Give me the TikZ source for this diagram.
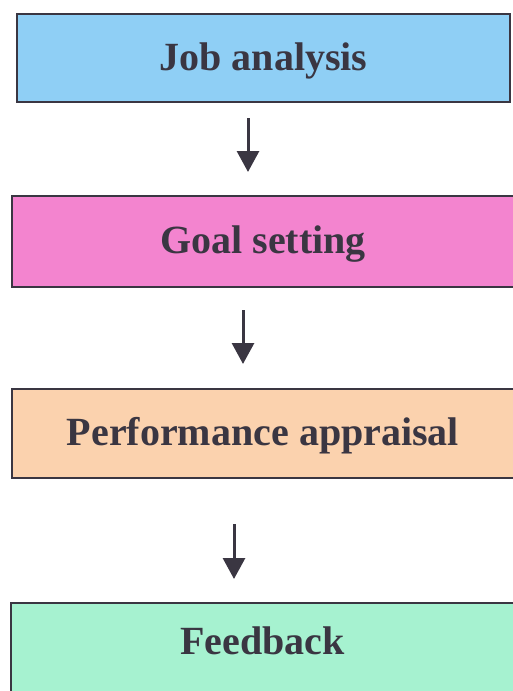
\documentclass[tikz,border=0pt]{standalone}
\usepackage{fontspec}
\setmainfont{Liberation Serif}
\usetikzlibrary{
    arrows.meta,
    positioning
}
\definecolor{jobblue}{RGB}{143,207,245}
\definecolor{goalpink}{RGB}{243,132,207}
\definecolor{apprpeach}{RGB}{251,210,174}
\definecolor{feedgreen}{RGB}{166,242,208}
\definecolor{inkgray}{RGB}{58,54,66}
\tikzset{
  stage/.style={
    draw=inkgray,
    line width=2pt,
    rectangle,
    inner sep=0pt,
    text=inkgray,
    font=\fontsize{40pt}{48pt}\selectfont\bfseries,
    text height=28pt,
    text depth=4pt
  },
  flow/.style={
    draw=inkgray,
    line width=3pt,
    -{Triangle[width=22pt,length=21pt]}
  }
}
\begin{document}
\begin{tikzpicture}[x=1pt,y=-1pt]
\useasboundingbox (0,0) rectangle (512,691);
\node[stage, fill=jobblue, minimum width=493pt, minimum height=88pt]
  (job) at (263.5,58) {Job analysis};
\node[stage, fill=goalpink, minimum width=502pt, minimum height=91pt]
  (goal) at (263,241.5) {Goal setting};
\node[stage, fill=apprpeach, minimum width=502pt, minimum height=89pt]
  (appr) at (263,433.5) {Performance appraisal};
\node[stage, fill=feedgreen, minimum width=503pt, minimum height=96pt,
  text depth=22pt]
  (feed) at (262.5,651) {Feedback};
% arrows between the stages
\draw[flow, shorten <=15pt, shorten >=23pt]
  ([xshift=-15.5pt]job.south) -- ([xshift=-15pt]goal.north);
\draw[flow, shorten <=22pt, shorten >=24pt]
  ([xshift=-20pt]goal.south) -- ([xshift=-20pt]appr.north);
\draw[flow, shorten <=45pt, shorten >=23pt]
  ([xshift=-29pt]appr.south) -- ([xshift=-28.5pt]feed.north);
\end{tikzpicture}
\end{document}
